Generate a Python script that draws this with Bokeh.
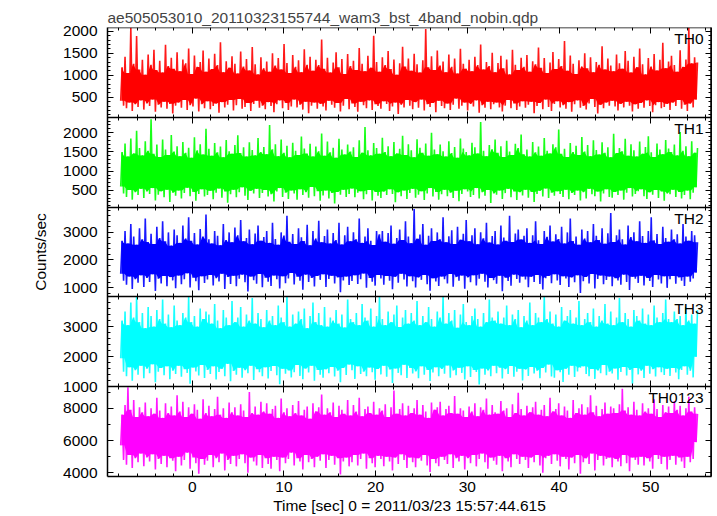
import numpy as np
from bokeh.plotting import figure
from bokeh.models import (Range1d, LinearAxis, FixedTicker, SingleIntervalTicker,
                          Label, CustomJSTickFormatter)
from bokeh.embed import file_html
from bokeh.resources import INLINE

FONT = "Liberation Sans"
FS = "15.5px"

title_text = "ae505053010_20110323155744_wam3_bst_4band_nobin.qdp"
x_label = "Time [sec] 0 = 2011/03/23 15:57:44.615"
y_label = "Counts/sec"

panel_names = ["TH0", "TH1", "TH2", "TH3", "TH0123"]
panel_colors = ["#ff0000", "#00ff00", "#0000ff", "#00ffff", "#ff00ff"]
y_limits = [(45, 2085), (66, 2400), (662, 3917), (1000, 3990), (3772, 9330)]
major_ticks = [[500, 1000, 1500, 2000], [500, 1000, 1500, 2000],
               [1000, 2000, 3000], [1000, 2000, 3000], [4000, 6000, 8000]]
minor_steps = [100, 100, 200, 200, 1000]

x_start, x_end = -9.24, 56.63
t_start, t_step = -7.8, 0.3153   # time of first sample pair, spacing of pairs (s)

# per-pair peak (high) and trough (low) count rates
th0_high = [1180, 1420, 1050, 2080, 1260, 1890, 1130, 1350, 1010, 1470,
            1240, 1580, 1120, 1330, 1060, 1690, 1210, 1400, 1150, 1520,
            1090, 1360, 1270, 1610, 1030, 1450, 1190, 1300, 1560, 1080,
            1380, 1140, 1490, 1230, 1750, 1070, 1320, 1170, 1430, 1260,
            1040, 1540, 1200, 1370, 1110, 1640, 1250, 1020, 1410, 1160,
            1310, 1080, 1500, 1220, 1390, 1130, 1710, 1280, 1050, 1460,
            1190, 1340, 1070, 1590, 1240, 1420, 1100, 1350, 1230, 1810,
            1150, 1400, 1060, 1290, 1520, 1180, 1370, 1030, 1480, 1210,
            1330, 1120, 1620, 1260, 1090, 1440, 1170, 1900, 1300, 1080,
            1410, 1230, 1550, 1140, 1360, 1010, 1270, 1650, 1200, 1380,
            1100, 1490, 1250, 1060, 1340, 2050, 1180, 1430, 1120, 1560,
            1220, 1310, 1070, 1470, 1190, 1380, 1040, 1600, 1260, 1150,
            1350, 1090, 1420, 1230, 1700, 1130, 1300, 1210, 1510, 1070,
            1280, 1440, 1160, 1360, 1020, 1580, 1240, 1120, 1400, 1190,
            1460, 1080, 1320, 1250, 1630, 1170, 1390, 1050, 1290, 1530,
            1140, 1370, 1210, 1780, 1100, 1450, 1260, 1030, 1340, 1200,
            1500, 1160, 1410, 1070, 1300, 1240, 1660, 1130, 1380, 1220,
            1090, 1470, 1270, 1150, 1550, 1330, 1060, 1420, 1180, 1610,
            1250, 1020, 1390, 1200, 1480, 1110, 1350, 1740, 1160, 1310,
            1440, 1230, 1080, 1570, 1190, 1360, 2080, 1270, 1410, 1290]
th0_low = [420, 310, 250, 380, 190, 340, 280, 430, 220, 360,
           300, 450, 170, 330, 270, 400, 240, 350, 130, 310,
           380, 260, 440, 210, 320, 290, 470, 180, 340, 250,
           410, 230, 300, 360, 150, 390, 270, 330, 440, 200,
           320, 460, 240, 280, 370, 190, 350, 420, 260, 310,
           230, 390, 300, 160, 340, 430, 250, 370, 210, 290,
           450, 270, 330, 220, 400, 140, 310, 380, 240, 350,
           290, 200, 420, 330, 260, 370, 180, 310, 460, 230,
           360, 280, 170, 400, 320, 250, 430, 210, 340, 300,
           240, 410, 350, 190, 290, 380, 120, 330, 270, 440,
           310, 230, 390, 260, 450, 200, 340, 280, 370, 160,
           420, 300, 250, 360, 210, 330, 470, 240, 310, 380,
           200, 350, 290, 430, 150, 320, 260, 400, 230, 340,
           380, 270, 180, 310, 440, 250, 360, 210, 290, 410,
           260, 330, 400, 140, 300, 370, 230, 450, 280, 190,
           350, 410, 270, 320, 240, 390, 170, 340, 430, 260,
           300, 220, 360, 460, 280, 130, 330, 250, 380, 310,
           420, 290, 200, 350, 270, 400, 310, 180, 340, 240,
           370, 260, 430, 300, 160, 320, 390, 250, 280, 350,
           210, 380, 300, 440, 240, 330, 190, 360, 270, 450]

th1_high = [1500, 1720, 1380, 1850, 1460, 2050, 1600, 1410, 1780, 1530,
            2350, 1450, 1690, 1370, 1820, 1560, 1420, 1940, 1510, 1650,
            1390, 1760, 1480, 1610, 1350, 1880, 1540, 1700, 1430, 2100,
            1580, 1400, 1730, 1490, 1640, 1360, 1810, 1520, 1450, 1680,
            1930, 1470, 1620, 1380, 1750, 1550, 1410, 1860, 1500, 1630,
            1440, 2200, 1570, 1700, 1390, 1820, 1480, 1660, 1360, 1740,
            1530, 1420, 1900, 1590, 1460, 1710, 1380, 1640, 1520, 1980,
            1400, 1770, 1490, 1610, 1350, 1840, 1560, 1430, 1690, 1510,
            1620, 1370, 1800, 1480, 2150, 1540, 1410, 1730, 1600, 1450,
            1870, 1500, 1650, 1390, 1760, 1460, 1580, 1920, 1420, 1700,
            1540, 1360, 1830, 1610, 1480, 1720, 1400, 2000, 1560, 1440,
            1690, 1520, 1380, 1780, 1470, 1630, 1350, 1850, 1590, 1500,
            1410, 1740, 1620, 1460, 2280, 1530, 1390, 1680, 1570, 1820,
            1480, 1650, 1370, 1790, 1510, 1420, 1710, 1600, 1950, 1440,
            1560, 1380, 1760, 1490, 1640, 1400, 1860, 1530, 1460, 1700,
            1620, 2080, 1450, 1580, 1370, 1730, 1500, 1660, 1420, 1890,
            1510, 1680, 1390, 1800, 1550, 1430, 1750, 1480, 1620, 1360,
            1970, 1470, 1600, 1520, 1840, 1400, 1700, 1540, 1380, 1770,
            1450, 1630, 1910, 1490, 1370, 1720, 1560, 1440, 1810, 1590,
            1500, 1690, 1410, 2020, 1530, 1650, 1390, 1780, 1480, 1600]
th1_low = [600, 420, 330, 510, 260, 450, 380, 540, 300, 470,
           410, 560, 240, 390, 480, 320, 520, 200, 440, 360,
           500, 290, 430, 570, 350, 460, 230, 410, 530, 340,
           380, 490, 270, 440, 550, 310, 470, 180, 400, 520,
           320, 450, 580, 360, 250, 490, 420, 540, 300, 430,
           510, 340, 400, 210, 470, 560, 330, 440, 280, 500,
           420, 260, 530, 380, 450, 310, 590, 350, 480, 230,
           370, 500, 290, 430, 160, 460, 390, 520, 330, 410,
           550, 320, 440, 480, 270, 400, 510, 240, 460, 360,
           300, 470, 380, 530, 410, 190, 450, 350, 500, 280,
           430, 540, 310, 390, 480, 250, 420, 560, 340, 460,
           260, 400, 520, 350, 440, 300, 490, 220, 410, 530,
           470, 330, 380, 560, 290, 450, 360, 510, 170, 420,
           390, 500, 280, 430, 540, 320, 470, 250, 450, 370,
           520, 310, 460, 200, 410, 490, 340, 550, 300, 440,
           360, 480, 410, 330, 520, 270, 430, 380, 500, 240,
           450, 290, 540, 400, 350, 470, 210, 420, 530, 330,
           310, 460, 380, 500, 260, 440, 560, 340, 410, 480,
           530, 350, 280, 450, 390, 510, 300, 470, 230, 420,
           400, 520, 330, 460, 290, 380, 500, 270, 440, 580]

th2_high = [2700, 3050, 2600, 3300, 2850, 2550, 3150, 2750, 3500, 2650,
            2950, 2580, 3200, 2800, 3400, 2680, 3000, 2520, 3100, 2900,
            2620, 3250, 2780, 3550, 2700, 2980, 2560, 3120, 2850, 3650,
            2750, 2600, 3050, 2880, 2530, 3300, 2720, 3000, 2640, 3180,
            2900, 3450, 2680, 2800, 3100, 2570, 2960, 3250, 2700, 2830,
            3050, 2620, 3350, 2760, 2550, 3000, 2890, 3600, 2660, 2940,
            2580, 3150, 2820, 2690, 3280, 2530, 3050, 2780, 3420, 2640,
            2870, 3100, 2600, 2980, 2720, 3350, 2560, 2900, 3200, 2680,
            3000, 2750, 3500, 2620, 2850, 3150, 2700, 2540, 3050, 2930,
            3050, 2660, 2980, 3250, 2590, 2800, 3100, 2720, 3400, 2850,
            2610, 3850, 2770, 2920, 3300, 2550, 2880, 3150, 2690, 3000,
            2750, 3550, 2640, 2860, 3080, 2580, 3200, 2730, 2950, 3450,
            2680, 2900, 3150, 2570, 3000, 2790, 3350, 2630, 2870, 3050,
            2560, 3250, 2810, 2700, 3600, 2650, 2960, 3100, 2740, 2880,
            3150, 2620, 2900, 3400, 2710, 2580, 3050, 2840, 3250, 2670,
            2930, 2760, 3200, 2600, 3000, 3500, 2690, 2850, 2550, 3100,
            2780, 3050, 2640, 3300, 2880, 2720, 3150, 2590, 2970, 3700,
            2650, 2900, 3100, 2750, 2560, 3250, 2830, 3000, 2680, 3400,
            2870, 2620, 3050, 3550, 2710, 2940, 2580, 3200, 2800, 2660,
            3100, 2750, 2930, 2600, 3300, 2850, 2700, 3050, 2900, 2640]
th2_low = [1500, 1250, 1100, 1400, 950, 1300, 1180, 1450, 1020, 1350,
           1200, 1480, 880, 1320, 1150, 1420, 1050, 1380, 1260, 980,
           1440, 1120, 1300, 1520, 1000, 1360, 1230, 900, 1410, 1170,
           1290, 1460, 1080, 1340, 1220, 1500, 950, 1380, 1130, 1430,
           1050, 1320, 1470, 1190, 860, 1400, 1270, 1140, 1490, 1010,
           1360, 1210, 1060, 1440, 1300, 970, 1410, 1160, 1330, 1530,
           1110, 1390, 1250, 920, 1470, 1200, 1350, 1040, 1420, 1280,
           1480, 1020, 1310, 1430, 1150, 1370, 830, 1260, 1400, 1090,
           1240, 1450, 1130, 1300, 1510, 990, 1350, 1210, 1070, 1460,
           1330, 1100, 1420, 1250, 940, 1390, 1180, 1500, 1290, 1040,
           1410, 1230, 1000, 1370, 1280, 1460, 1120, 890, 1340, 1220,
           1060, 1400, 1300, 1150, 1490, 1030, 1380, 1250, 1440, 960,
           1370, 1190, 1450, 1080, 1320, 1500, 1210, 1000, 1350, 1270,
           1140, 1430, 870, 1360, 1240, 1070, 1470, 1310, 1180, 1400,
           1290, 1010, 1390, 1200, 1460, 1130, 930, 1340, 1420, 1160,
           1480, 1260, 1090, 1410, 1330, 1020, 1370, 1190, 1450, 800,
           1230, 1380, 1150, 1490, 970, 1310, 1440, 1120, 1280, 1400,
           1050, 1340, 1260, 1100, 1470, 1200, 910, 1390, 1320, 1170,
           1430, 1080, 1350, 1240, 1020, 1460, 1290, 1150, 1410, 990,
           1300, 1420, 1140, 1370, 1250, 1060, 1400, 1210, 1330, 1550]

th3_high = [3200, 3500, 3050, 3800, 3300, 4100, 3150, 3450, 2950, 3650,
            3350, 3000, 3550, 3250, 3900, 3100, 3400, 2980, 3700, 3200,
            3050, 3450, 3300, 4050, 3150, 3350, 3000, 3600, 3250, 3500,
            3400, 3100, 3750, 3200, 2950, 3550, 3300, 3050, 3850, 3150,
            3300, 3650, 3000, 3400, 3200, 3950, 3100, 3450, 3250, 2980,
            3550, 3200, 3350, 3050, 3700, 3300, 3150, 4100, 3000, 3400,
            3100, 3500, 3250, 3600, 2950, 3350, 3800, 3150, 3450, 3050,
            3650, 3000, 3300, 3200, 3550, 3100, 3400, 2970, 3900, 3250,
            3150, 3450, 3050, 3750, 3300, 3200, 3600, 3000, 3350, 4000,
            3250, 3050, 3500, 3150, 3400, 3700, 2990, 3300, 3550, 3100,
            3450, 3200, 3850, 3050, 3350, 3150, 3650, 3250, 3000, 3500,
            3300, 4050, 3100, 3450, 3200, 3550, 2960, 3400, 3750, 3150,
            3050, 3350, 3600, 3250, 3000, 3450, 3150, 3900, 3300, 3200,
            3500, 3100, 3300, 3700, 3050, 3400, 3250, 3550, 2980, 3350,
            3200, 3800, 3050, 3450, 3300, 3150, 4000, 3250, 3500, 3100,
            3400, 3000, 3650, 3200, 3350, 3550, 3100, 3300, 3850, 3050,
            3250, 3450, 3150, 3600, 3000, 3350, 3200, 3750, 3100, 3500,
            3050, 3300, 3950, 3150, 3450, 3250, 3000, 3550, 3350, 3200,
            3600, 3100, 3400, 3050, 3700, 3300, 3150, 3450, 3900, 3250,
            3150, 3500, 3250, 3350, 3050, 3650, 3200, 3400, 3100, 3550]
th3_low = [1950, 1500, 1350, 1650, 1200, 1550, 1400, 1700, 1280, 1600,
           1450, 1750, 1150, 1500, 1620, 1380, 1680, 1250, 1530, 1420,
           1700, 1330, 1580, 1460, 1100, 1640, 1510, 1370, 1720, 1290,
           1560, 1420, 1680, 1240, 1490, 1600, 1350, 1760, 1180, 1520,
           1400, 1630, 1300, 1550, 1450, 1700, 1220, 1580, 1480, 1350,
           1650, 1270, 1520, 1690, 1380, 1080, 1600, 1430, 1540, 1310,
           1480, 1720, 1360, 1250, 1610, 1470, 1700, 1200, 1560, 1400,
           1300, 1580, 1450, 1660, 1340, 1530, 1150, 1620, 1390, 1740,
           1550, 1260, 1680, 1420, 1500, 1350, 1640, 1480, 1230, 1590,
           1410, 1700, 1330, 1570, 1120, 1610, 1460, 1380, 1730, 1290,
           1620, 1440, 1510, 1280, 1680, 1400, 1560, 1190, 1470, 1650,
           1350, 1590, 1430, 1710, 1300, 1540, 1380, 1630, 1460, 1240,
           1680, 1320, 1560, 1490, 1070, 1610, 1400, 1540, 1350, 1700,
           1450, 1630, 1270, 1580, 1420, 1690, 1330, 1500, 1600, 1210,
           1570, 1360, 1660, 1440, 1530, 1280, 1620, 1470, 1740, 1340,
           1300, 1550, 1480, 1160, 1600, 1400, 1700, 1320, 1510, 1630,
           1680, 1420, 1350, 1590, 1260, 1540, 1450, 1720, 1380, 1500,
           1440, 1610, 1230, 1490, 1660, 1370, 1560, 1100, 1620, 1410,
           1530, 1290, 1700, 1430, 1580, 1340, 1650, 1480, 1390, 1600,
           1360, 1620, 1470, 1250, 1560, 1680, 1400, 1530, 1310, 2000]

th0123_high = [7600, 8200, 9300, 7900, 8500, 7450, 8050, 7750, 8350, 7500,
               8000, 7650, 8650, 7850, 7400, 8300, 7700, 8100, 7550, 8800,
               7800, 8400, 7450, 8050, 7650, 8250, 7900, 7350, 8550, 7700,
               8150, 7500, 7950, 8700, 7600, 8000, 7400, 8350, 7750, 8050,
               7550, 8250, 7850, 7450, 9000, 7700, 8100, 7600, 8400, 7800,
               8300, 7650, 7950, 8150, 7400, 8600, 7750, 8000, 7500, 8200,
               7700, 8450, 7550, 7900, 8100, 7350, 8300, 7800, 8050, 8850,
               7600, 8000, 7750, 8350, 7450, 8150, 7900, 7650, 8500, 7550,
               8200, 7800, 8650, 7500, 7950, 8100, 7700, 8400, 7600, 8000,
               7850, 8250, 7450, 8050, 9100, 7650, 7950, 8300, 7550, 8150,
               7700, 8000, 8500, 7600, 8200, 7800, 7400, 8350, 7900, 8050,
               8400, 7550, 7950, 8150, 7700, 8750, 7650, 8000, 7850, 7450,
               8100, 7800, 8300, 7500, 8050, 7900, 8600, 7600, 8200, 7750,
               7650, 8450, 7850, 8000, 7450, 8250, 7700, 8950, 7950, 7550,
               8150, 7750, 8050, 8400, 7600, 7900, 8200, 7500, 8650, 7800,
               7950, 8300, 7550, 8100, 7850, 7400, 8500, 7700, 8000, 8250,
               7600, 8050, 8800, 7750, 8150, 7500, 7950, 8350, 7650, 8100,
               8000, 7700, 8250, 9200, 7850, 8050, 7600, 8400, 7900, 7550,
               8300, 7800, 8000, 7650, 8550, 7950, 7450, 8200, 7750, 8100,
               7700, 8450, 7900, 8150, 7550, 8000, 8700, 7800, 8050, 7650]
th0123_low = [5700, 4800, 4500, 5100, 4300, 4900, 4650, 5200, 4400, 4950,
              4700, 5150, 4200, 4850, 4550, 5050, 4350, 4900, 4750, 4100,
              5000, 4450, 4800, 5250, 4250, 4950, 4600, 3950, 4850, 4500,
              4750, 5100, 4350, 4900, 4650, 5200, 4150, 4800, 4550, 5050,
              4400, 4850, 5150, 4600, 4000, 4950, 4700, 4450, 5100, 4300,
              4900, 4550, 4250, 5000, 4800, 4100, 4950, 4600, 4850, 5250,
              4450, 4900, 4700, 4200, 5100, 4650, 4850, 4350, 5000, 4750,
              5150, 4300, 4800, 5050, 4500, 4900, 3900, 4700, 4950, 4400,
              4650, 5100, 4450, 4850, 5200, 4250, 4900, 4600, 4350, 5050,
              4850, 4400, 5000, 4700, 4150, 4950, 4550, 5150, 4800, 4300,
              4950, 4650, 4350, 4900, 4750, 5100, 4450, 4050, 4850, 4600,
              4400, 5000, 4800, 4550, 5150, 4300, 4900, 4700, 5050, 4200,
              4900, 4600, 5100, 4400, 4850, 5200, 4650, 4250, 4950, 4750,
              4500, 5050, 4100, 4900, 4700, 4350, 5150, 4850, 4550, 5000,
              4800, 4300, 4950, 4650, 5100, 4450, 4000, 4900, 5050, 4550,
              5150, 4750, 4400, 5000, 4850, 4200, 4950, 4600, 5100, 3950,
              4650, 4900, 4550, 5200, 4150, 4800, 5050, 4450, 4850, 4950,
              4350, 4850, 4700, 4400, 5100, 4600, 4100, 4950, 4800, 4500,
              5000, 4450, 4900, 4700, 4250, 5100, 4850, 4550, 5000, 4200,
              4800, 5050, 4500, 4950, 4700, 4300, 5000, 4650, 4850, 5900]

highs = [th0_high, th1_high, th2_high, th3_high, th0123_high]
lows = [th0_low, th1_low, th2_low, th3_low, th0123_low]

n_pan = len(panel_names)

p = figure(width=715, height=516, x_range=Range1d(x_start, x_end), y_range=Range1d(0, n_pan),
           x_axis_location=None, y_axis_location=None, output_backend="svg",
           toolbar_location=None, min_border_left=107, min_border_right=4,
           min_border_top=27, min_border_bottom=40)
p.grid.visible = False
p.outline_line_color = None
p.background_fill_color = "white"
p.border_fill_color = "white"
p.title.text = title_text
p.title.text_font = FONT
p.title.text_font_size = FS
p.title.text_font_style = "normal"
p.title.align = "left"
p.title.offset = 0
p.title.standoff = 4

# one stacked y range per panel
ranges = {}
for k, name in enumerate(panel_names):
    lo, hi = y_limits[k]
    span = hi - lo
    ranges[name] = Range1d(lo - (n_pan - 1 - k) * span, hi + k * span)
p.extra_y_ranges = ranges

blank = CustomJSTickFormatter(code="return ''")


def style(ax, show_labels):
    ax.axis_line_color = "black"
    ax.axis_line_width = 1.5
    ax.major_tick_line_color = "black"
    ax.minor_tick_line_color = "black"
    ax.major_tick_line_width = 1
    ax.minor_tick_line_width = 1
    ax.major_label_text_font = FONT
    ax.major_label_text_font_size = FS
    ax.major_label_text_color = "black"
    ax.axis_label_text_font = FONT
    ax.axis_label_text_font_size = FS
    ax.axis_label_text_font_style = "normal"
    ax.axis_label_text_color = "black"
    if not show_labels:
        ax.formatter = blank
        ax.major_label_standoff = 0


left_pos, left_lab, left_minor = [], [], []
for k, name in enumerate(panel_names):
    lo, hi = y_limits[k]
    col = panel_colors[k]
    lo_v = np.array(lows[k], dtype=float)
    hi_v = np.array(highs[k], dtype=float)
    m = len(hi_v)
    t_lo = t_start + np.arange(m) * t_step
    x = np.empty(2 * m)
    y = np.empty(2 * m)
    x[0::2] = t_lo
    x[1::2] = t_lo + t_step / 2
    y[0::2] = lo_v
    y[1::2] = hi_v
    y = np.clip(y, lo, hi)
    # densely overlapping core where neighbouring samples all cross
    hp = np.r_[hi_v[0], hi_v, hi_v[-1]]
    lp = np.r_[lo_v[0], lo_v, lo_v[-1]]
    core_hi = np.clip(np.minimum(np.minimum(hp[:-2], hp[1:-1]), hp[2:]), lo, hi)
    core_lo = np.clip(np.maximum(np.maximum(lp[:-2], lp[1:-1]), lp[2:]), lo, hi)
    p.varea(x=t_lo + t_step / 4, y1=core_lo, y2=core_hi, fill_color=col,
            y_range_name=name)
    p.line(x, y, line_color=col, line_width=1.6, line_alpha=0.9, y_range_name=name)

    st = minor_steps[k]
    minors = [v for v in range(int(np.ceil(lo / st)) * st, hi, st) if v not in major_ticks[k]]
    base = n_pan - 1 - k
    for v in major_ticks[k]:
        left_pos.append(base + (v - lo) / (hi - lo))
        left_lab.append(str(v))
    for v in minors:
        left_minor.append(base + (v - lo) / (hi - lo))

    ra = LinearAxis(y_range_name=name, ticker=FixedTicker(ticks=major_ticks[k], minor_ticks=minors),
                    fixed_location=x_end, major_tick_in=6, major_tick_out=0,
                    minor_tick_in=3, minor_tick_out=0)
    style(ra, False)
    p.add_layout(ra, "right")

    p.add_layout(Label(x=x_end - 0.87, y=n_pan - k - 0.03, text=name, text_align="right",
                       text_baseline="top", text_font=FONT, text_font_size=FS,
                       text_color="black"))

# left axis carrying every panel's count-rate labels
left_fmt = CustomJSTickFormatter(args=dict(pos=left_pos, labs=left_lab), code="""
let best = -1, d = 1e9;
for (let i = 0; i < pos.length; i++) {
  const e = Math.abs(pos[i] - tick);
  if (e < d) { d = e; best = i; }
}
return d < 1e-6 ? labs[best] : "";
""")
la = LinearAxis(ticker=FixedTicker(ticks=left_pos, minor_ticks=left_minor), formatter=left_fmt,
                major_tick_in=6, major_tick_out=0, minor_tick_in=3, minor_tick_out=0,
                major_label_standoff=10, axis_label=y_label, axis_label_standoff=11)
style(la, True)
p.add_layout(la, "left")

# time axes: top edge, panel boundaries, bottom edge
top_ax = LinearAxis(ticker=SingleIntervalTicker(interval=10, num_minor_ticks=5),
                    fixed_location=n_pan, major_tick_in=6, major_tick_out=0,
                    minor_tick_in=3, minor_tick_out=0)
style(top_ax, False)
p.add_layout(top_ax, "above")
for b in range(1, n_pan):
    ax = LinearAxis(ticker=SingleIntervalTicker(interval=10, num_minor_ticks=5),
                    fixed_location=b, major_tick_in=6, major_tick_out=6,
                    minor_tick_in=3, minor_tick_out=3)
    style(ax, False)
    p.add_layout(ax, "below")
bot = LinearAxis(ticker=SingleIntervalTicker(interval=10, num_minor_ticks=5),
                 major_tick_in=6, major_tick_out=0, minor_tick_in=3, minor_tick_out=0,
                 major_label_standoff=5, axis_label=x_label, axis_label_standoff=2)
style(bot, True)
p.add_layout(bot, "below")

open("out.html", "w").write(file_html(p, INLINE))
